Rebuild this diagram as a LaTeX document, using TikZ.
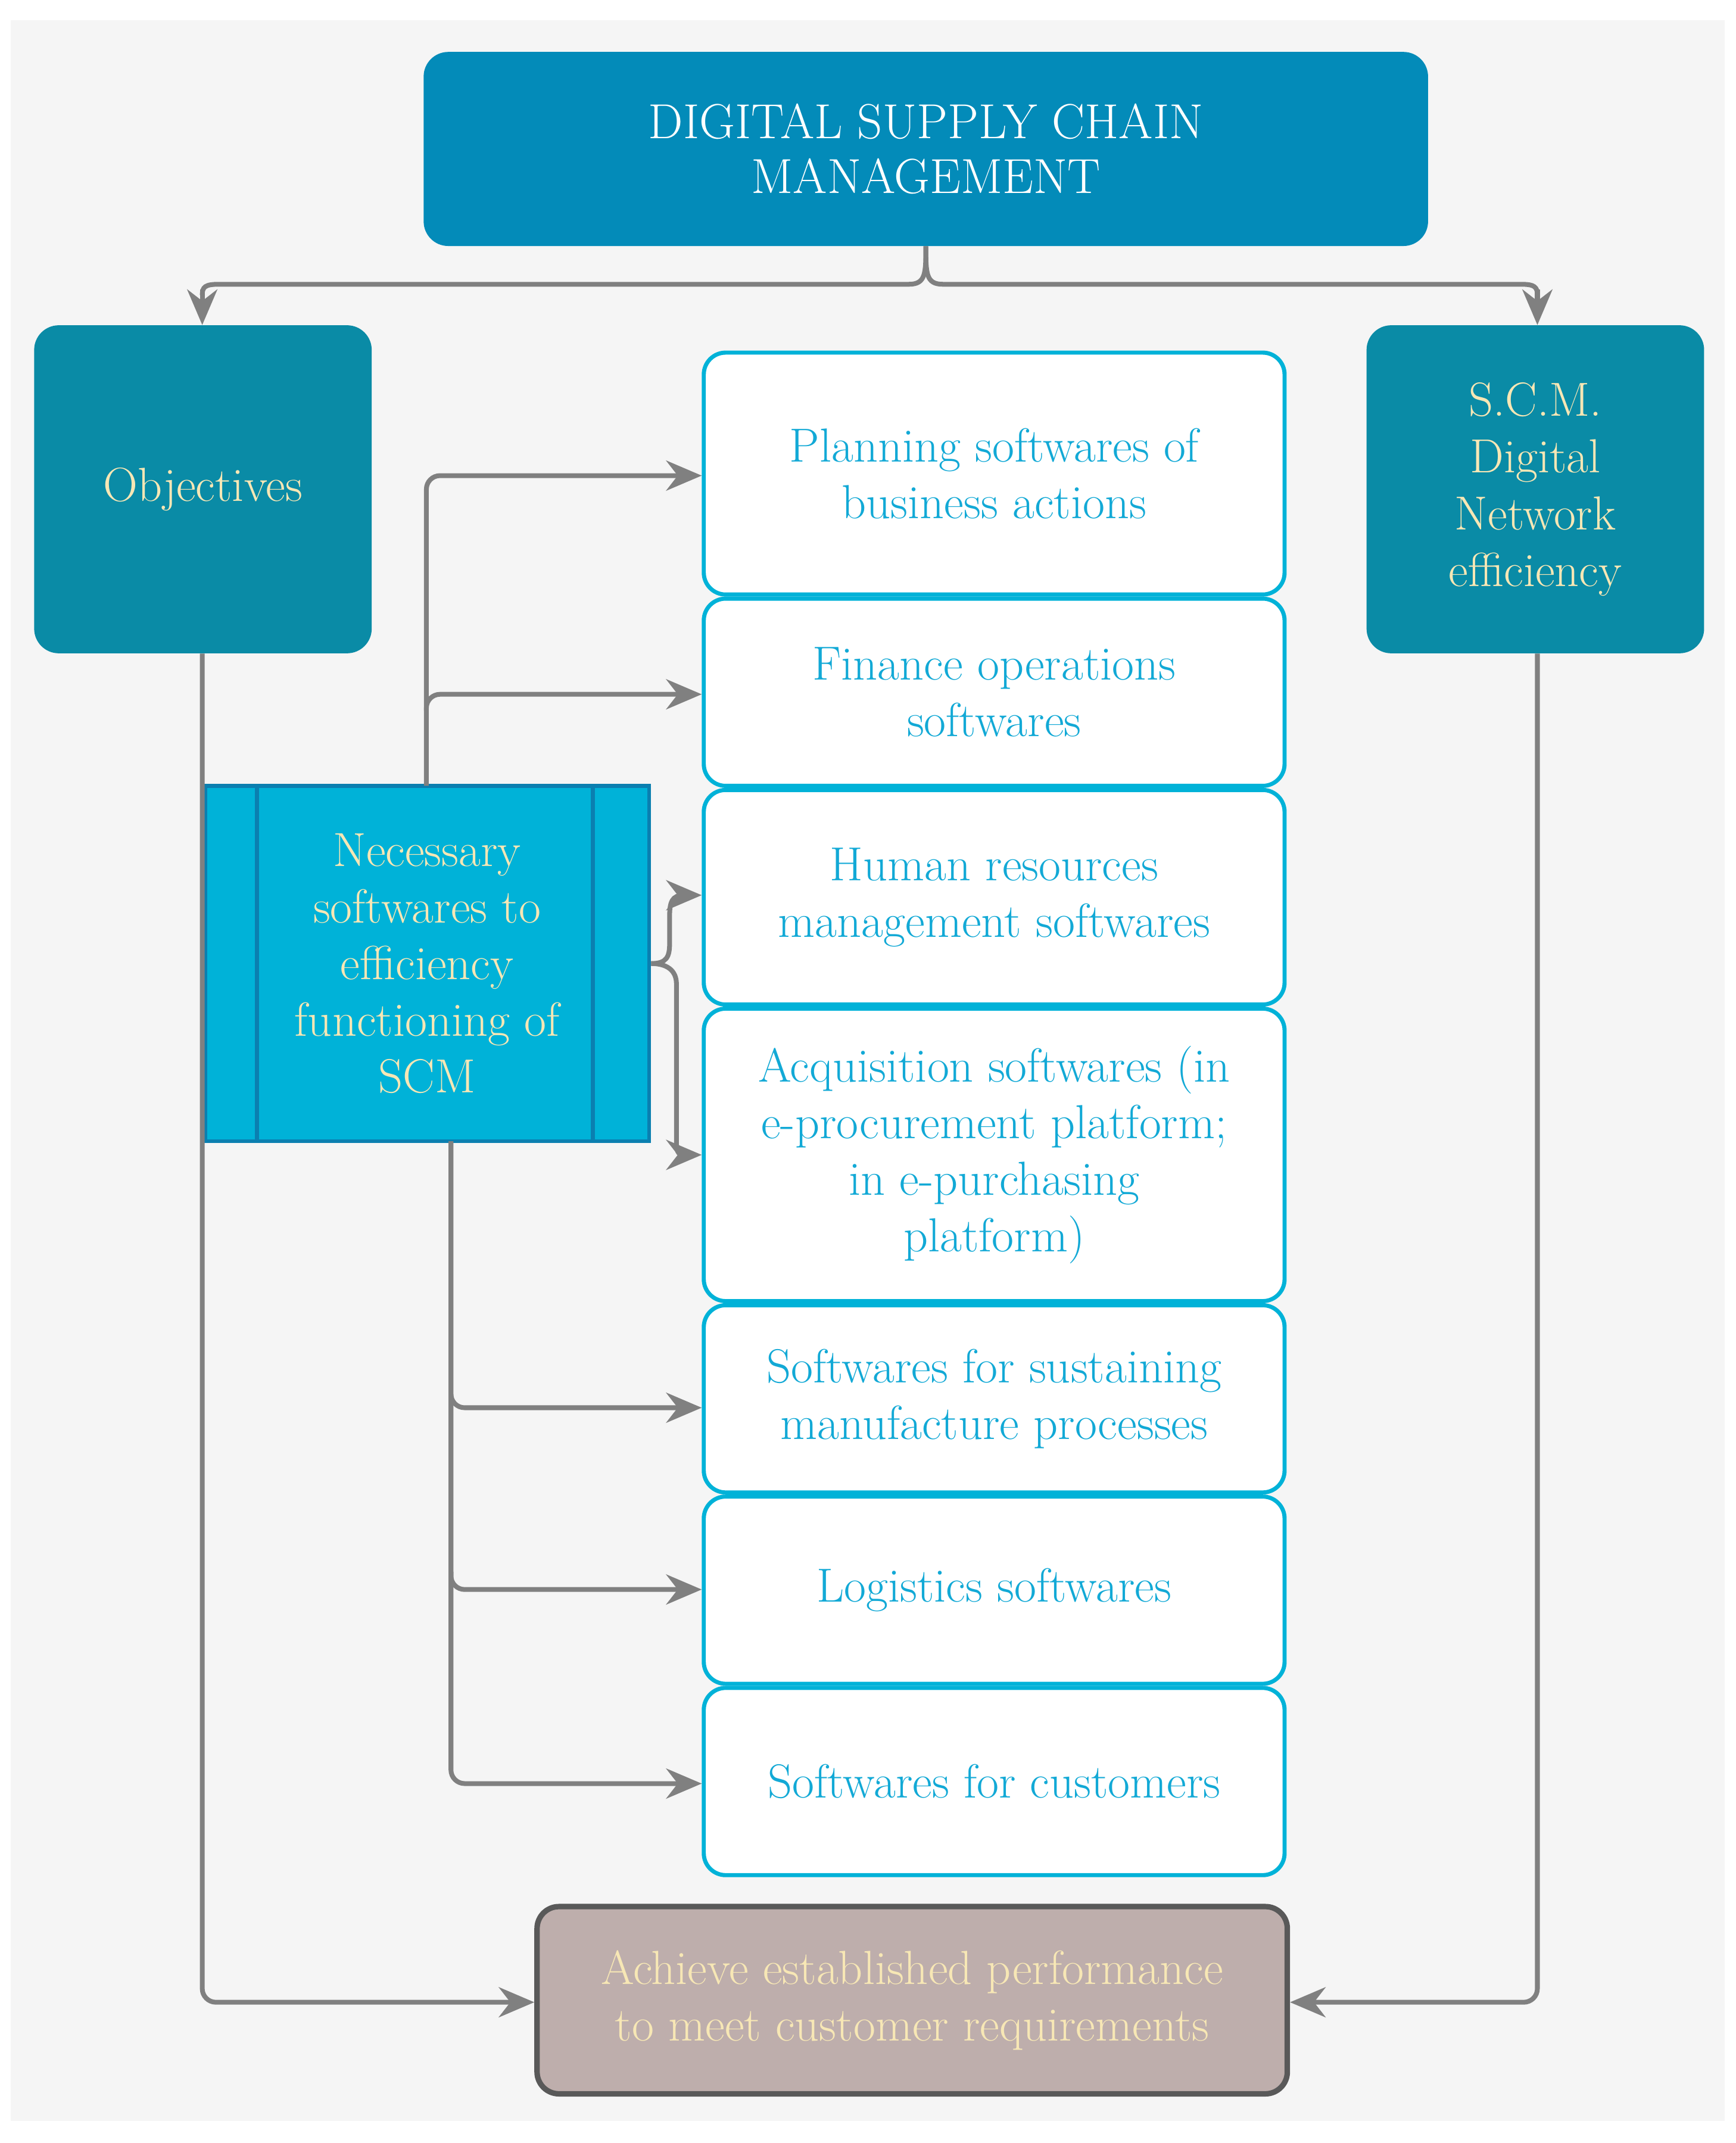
\documentclass[tikz,border=0pt]{standalone}
\usepackage{fontspec}
\usetikzlibrary{arrows.meta}
\definecolor{topc}{HTML}{038BB9}
\definecolor{tealc}{HTML}{0A8BA6}
\definecolor{cream}{HTML}{F7E7B5}
\definecolor{cyanc}{HTML}{00B2D8}
\definecolor{cyantxt}{HTML}{12A9D6}
\definecolor{darkb}{HTML}{0B7FB0}
\definecolor{linec}{HTML}{808080}
\definecolor{bottc}{HTML}{BEAEAC}
\begin{document}
\begin{tikzpicture}[x=1pt,y=-1pt,
  fnt/.style={font=\fontsize{35}{41.5}\selectfont, align=center},
  dark/.style={fnt, rounded corners=18pt, text=cream, inner sep=0pt},
  soft/.style={fnt, draw=cyanc, line width=3pt, rounded corners=16pt, fill=white, text=cyantxt, minimum width=425pt, inner sep=0pt},
  conn/.style={draw=linec, line width=3.5pt, -{Stealth[length=26pt,width=22pt]}},
  plain/.style={draw=linec, line width=3.5pt}]
\useasboundingbox (0,0) rectangle (1270,1568);
\fill[white] (0,0) rectangle (1270,1568);
\fill[gray!8] (8,15) rectangle (1262,1552);
% top
\node[dark, fill=topc, text=white, minimum width=735pt, minimum height=142pt, font=\fontsize{36}{40}\selectfont] (top) at (677.5,109) {DIGITAL SUPPLY CHAIN\\MANAGEMENT};
\node[dark, fill=tealc, minimum width=247pt, minimum height=240pt] (obj) at (148.5,358) {Objectives};
\node[dark, fill=tealc, minimum width=247pt, minimum height=240pt] (scm) at (1123.5,358) {S.C.M.\\Digital\\Network\\efficiency};
% white boxes
\node[soft, minimum height=177pt] (b1) at (727.5,346.5) {Planning softwares of\\business actions};
\node[soft, minimum height=137pt] (b2) at (727.5,506.5) {Finance operations\\softwares};
\node[soft, minimum height=157pt] (b3) at (727.5,656.5) {Human resources\\management softwares};
\node[soft, minimum height=214pt] (b4) at (727.5,845) {Acquisition softwares (in\\e-procurement platform;\\in e-purchasing\\platform)};
\node[soft, minimum height=137pt] (b5) at (727.5,1023.5) {Softwares for sustaining\\manufacture processes};
\node[soft, minimum height=137pt] (b6) at (727.5,1163.5) {Logistics softwares};
\node[soft, minimum height=137pt] (b7) at (727.5,1303.5) {Softwares for customers};
% necessary
\node[fnt, fill=cyanc, draw=darkb, line width=3pt, minimum width=325pt, minimum height=260pt, text=cream, inner sep=0pt] (nec) at (312.5,705) {Necessary\\softwares to\\efficiency\\functioning of\\SCM};
\draw[darkb, line width=3pt] (188,575) -- (188,835) (434,575) -- (434,835);
% bottom
\node[fnt, fill=bottc, draw=black!65, line width=4pt, rounded corners=16pt, minimum width=549pt, minimum height=137pt, text=cream, inner sep=0pt] (bot) at (667.5,1463.5) {Achieve established performance\\to meet customer requirements};
% top brace connectors
\coordinate (tb) at (top.south);
\draw[plain] (tb) .. controls (677.5,200) and (677.5,208) .. (665,208) -- (160,208) .. controls (150,208) and (148,210) .. (148,216);
\draw[conn] (148,212) -- (obj.north -| 148,0);
\draw[plain] (tb) .. controls (677.5,200) and (677.5,208) .. (690,208) -- (1113,208) .. controls (1123,208) and (1125,210) .. (1125,216);
\draw[conn] (1125,212) -- (scm.north -| 1125,0);
% necessary top
\draw[conn, rounded corners=10pt] (312,575) -- (312,348) -- (b1.west |- 0,348);
\draw[conn, rounded corners=10pt] (312,520) -- (312,508) -- (b2.west |- 0,508);
% bracket right
\draw[plain] (nec.east |- 0,705) .. controls (488,705) and (490,700) .. (490,690) -- (490,670) .. controls (490,660) and (492,655) .. (500,655);
\draw[conn] (498,655) -- (b3.west |- 0,655);
\draw[plain] (nec.east |- 0,705) .. controls (488,705) and (495,710) .. (495,720) -- (495,835) .. controls (495,842) and (496,845) .. (500,845);
\draw[conn] (498,845) -- (b4.west |- 0,845);
% necessary bottom
\draw[conn, rounded corners=10pt] (330,835) -- (330,1030) -- (b5.west |- 0,1030);
\draw[conn, rounded corners=10pt] (330,1020) -- (330,1163) -- (b6.west |- 0,1163);
\draw[conn, rounded corners=10pt] (330,1150) -- (330,1305) -- (b7.west |- 0,1305);
% sides to bottom
\draw[conn, rounded corners=10pt] (obj.south -| 148,0) -- (148,1465) -- (bot.west |- 0,1465);
\draw[conn, rounded corners=10pt] (scm.south -| 1125,0) -- (1125,1465) -- (bot.east |- 0,1465);
\end{tikzpicture}
\end{document}
